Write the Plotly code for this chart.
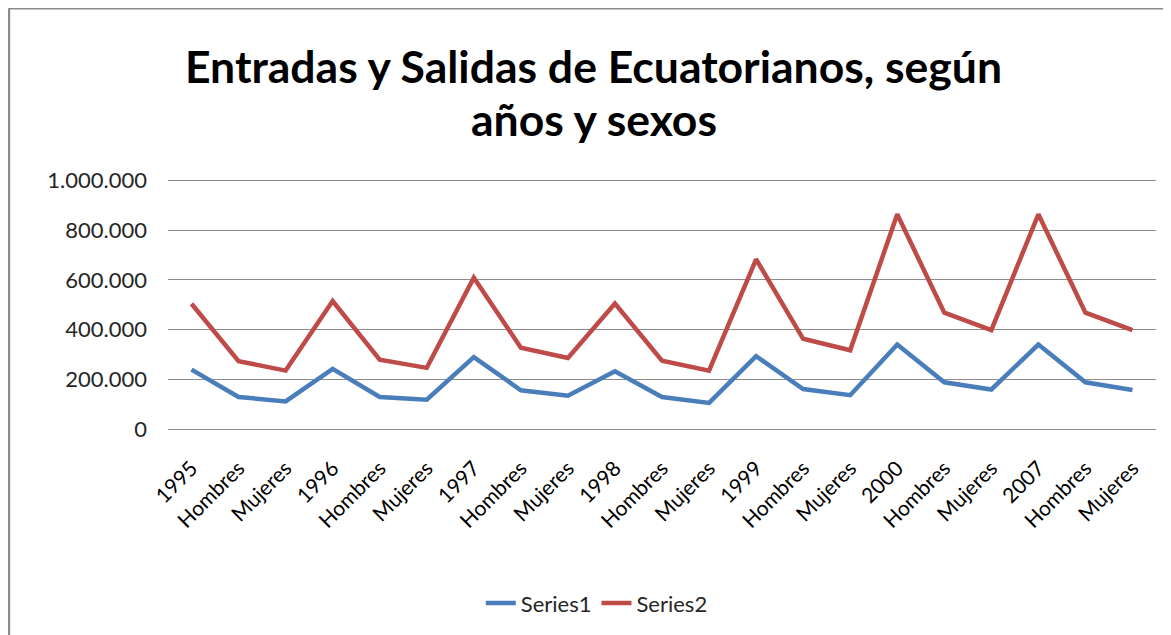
import plotly.graph_objects as go

# category labels along the x axis (years followed by Hombres / Mujeres)
categorias = ['1995', 'Hombres', 'Mujeres', '1996', 'Hombres', 'Mujeres',
              '1997', 'Hombres', 'Mujeres', '1998', 'Hombres', 'Mujeres',
              '1999', 'Hombres', 'Mujeres', '2000', 'Hombres', 'Mujeres',
              '2007', 'Hombres', 'Mujeres']

series1 = [239000, 129000, 111000, 242000, 129000, 118000,
           289000, 156000, 134000, 232000, 129000, 105000,
           293000, 161000, 136000, 340000, 188000, 159000,
           340000, 188000, 157000]

series2 = [504000, 273000, 235000, 515000, 279000, 246000,
           609000, 327000, 286000, 505000, 275000, 235000,
           683000, 363000, 317000, 864000, 468000, 398000,
           864000, 468000, 398000]

y_ticks = [0, 200000, 400000, 600000, 800000, 1000000]

titulo_1 = 'Entradas y Salidas de Ecuatorianos, según'
titulo_2 = 'años y sexos'

pos = list(range(len(categorias)))

fig = go.Figure()
fig.add_trace(go.Scatter(x=pos, y=series1, name='Series1', mode='lines',
                         line=dict(color='#4A7EBB', width=4.5)))
fig.add_trace(go.Scatter(x=pos, y=series2, name='Series2', mode='lines',
                         line=dict(color='#BE4B48', width=4.5)))

font_fam = 'Lato, Open Sans, sans-serif'

fig.update_layout(
    width=1171, height=635,
    margin=dict(l=160, r=23, t=171, b=213),
    paper_bgcolor='white', plot_bgcolor='white',
    separators=',.',
    font=dict(family=font_fam, color='#000000', size=18),
    showlegend=True,
    legend=dict(orientation='h', x=0.434, xanchor='center', y=-0.69, yanchor='middle',
                font=dict(size=22, color='#262626')),
)

# two-line title, placed as annotations to control the line spacing
fig.add_annotation(text=titulo_1, xref='paper', yref='paper', x=0.431, y=1.453,
                   showarrow=False, xanchor='center', yanchor='middle',
                   font=dict(family=font_fam, size=44.5, color='#000000', weight='bold'))
fig.add_annotation(text=titulo_2, xref='paper', yref='paper', x=0.431, y=1.243,
                   showarrow=False, xanchor='center', yanchor='middle',
                   font=dict(family=font_fam, size=44.5, color='#000000', weight='bold'))

fig.update_xaxes(range=[-0.5, len(categorias) - 0.5], tickmode='array',
                 tickvals=pos, ticktext=categorias, tickangle=-45,
                 showgrid=False, zeroline=False, showline=False,
                 ticklabelstandoff=21,
                 tickfont=dict(size=21, color='#000000'))
fig.update_yaxes(range=[-4000, 1006000], tickmode='array', tickvals=y_ticks,
                 tickformat=',.0f', showgrid=True, gridcolor='#8c8c8c', gridwidth=1,
                 zeroline=True, zerolinecolor='#8c8c8c', zerolinewidth=1,
                 showline=False, ticks='', ticklabelstandoff=20,
                 tickfont=dict(size=22, color='#262626'))

# chart frame (left and top edges visible in the reference)
fig.add_shape(type='line', xref='paper', yref='paper', x0=-0.161, x1=1.1,
              y0=1.68, y1=1.68, line=dict(color='#8c8c8c', width=2.5))
fig.add_shape(type='line', xref='paper', yref='paper', x0=-0.161, x1=-0.161,
              y0=1.68, y1=-1.0, line=dict(color='#8c8c8c', width=2.5))

fig.write_html("out.html")
